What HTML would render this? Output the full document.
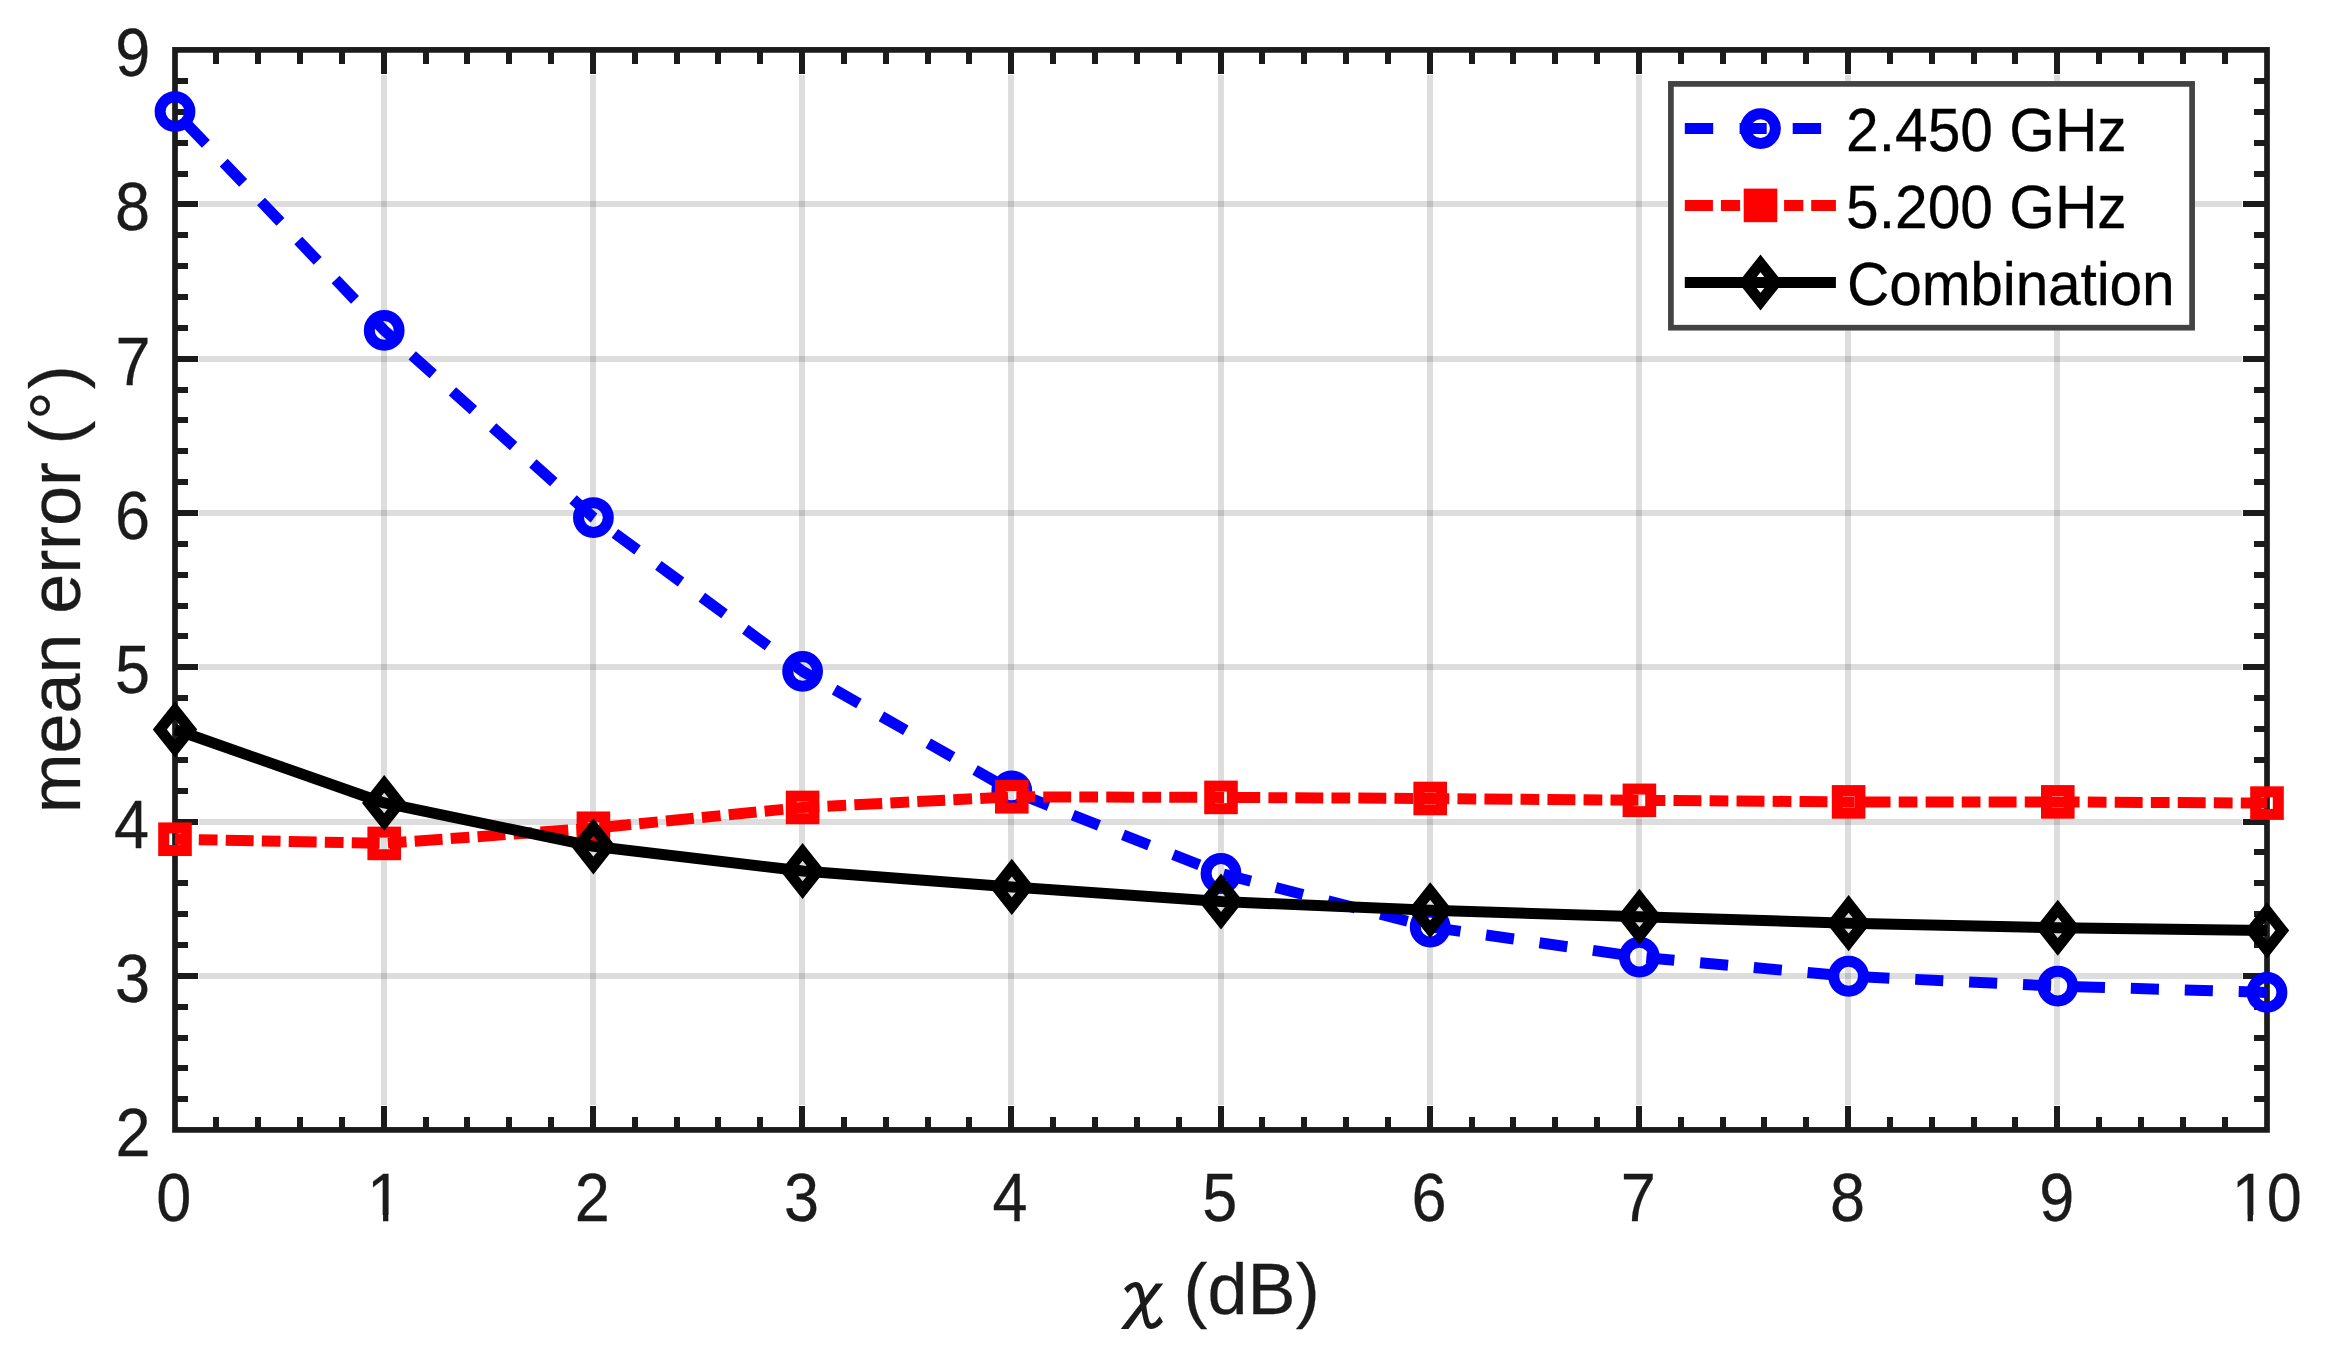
<!DOCTYPE html>
<html lang="en"><head><meta charset="utf-8"><title>mean error vs chi</title>
<style>html,body{margin:0;padding:0;background:#fff;overflow:hidden}svg{display:block}text{font-family:"Liberation Sans",sans-serif}.tk{font-size:65px;fill:#1b1b1b;stroke:#1b1b1b;stroke-width:.25px}.lb{font-size:72px;fill:#1b1b1b;stroke:#1b1b1b;stroke-width:.25px}.lg{font-size:58.7px;fill:#000;stroke:#000;stroke-width:.25px}</style></head><body>
<svg width="2352" height="1353" viewBox="0 0 2352 1353">
<rect x="0" y="0" width="2352" height="1353" fill="#fff"/>
<g fill="#1b1b1b" fill-opacity="0.15">
<rect x="381" y="75" width="6" height="1030"/>
<rect x="590" y="75" width="6" height="1030"/>
<rect x="799" y="75" width="6" height="1030"/>
<rect x="1008" y="75" width="6" height="1030"/>
<rect x="1218" y="75" width="6" height="1030"/>
<rect x="1427" y="75" width="6" height="1030"/>
<rect x="1636" y="75" width="6" height="1030"/>
<rect x="1845" y="75" width="6" height="1030"/>
<rect x="2054" y="75" width="6" height="1030"/>
<rect x="199" y="973" width="2043" height="6"/>
<rect x="199" y="819" width="2043" height="6"/>
<rect x="199" y="664" width="2043" height="6"/>
<rect x="199" y="510" width="2043" height="6"/>
<rect x="199" y="356" width="2043" height="6"/>
<rect x="199" y="201" width="2043" height="6"/>
</g>
<rect x="175.00" y="49.90" width="2092.00" height="1080.00" stroke="#1b1b1b" stroke-width="5.7" fill="none"/>
<path fill="#1b1b1b" d="M213 49.9H219V64H213ZM213 1129.9H219V1117H213ZM255 49.9H261V64H255ZM255 1129.9H261V1117H255ZM297 49.9H303V64H297ZM297 1129.9H303V1117H297ZM339 49.9H345V64H339ZM339 1129.9H345V1117H339ZM381 49.9H387V74H381ZM381 1129.9H387V1106H381ZM423 49.9H429V64H423ZM423 1129.9H429V1117H423ZM464 49.9H470V64H464ZM464 1129.9H470V1117H464ZM506 49.9H512V64H506ZM506 1129.9H512V1117H506ZM548 49.9H554V64H548ZM548 1129.9H554V1117H548ZM590 49.9H596V74H590ZM590 1129.9H596V1106H590ZM632 49.9H638V64H632ZM632 1129.9H638V1117H632ZM674 49.9H680V64H674ZM674 1129.9H680V1117H674ZM715 49.9H721V64H715ZM715 1129.9H721V1117H715ZM757 49.9H763V64H757ZM757 1129.9H763V1117H757ZM799 49.9H805V74H799ZM799 1129.9H805V1106H799ZM841 49.9H847V64H841ZM841 1129.9H847V1117H841ZM883 49.9H889V64H883ZM883 1129.9H889V1117H883ZM925 49.9H931V64H925ZM925 1129.9H931V1117H925ZM966 49.9H972V64H966ZM966 1129.9H972V1117H966ZM1008 49.9H1014V74H1008ZM1008 1129.9H1014V1106H1008ZM1050 49.9H1056V64H1050ZM1050 1129.9H1056V1117H1050ZM1092 49.9H1098V64H1092ZM1092 1129.9H1098V1117H1092ZM1134 49.9H1140V64H1134ZM1134 1129.9H1140V1117H1134ZM1176 49.9H1182V64H1176ZM1176 1129.9H1182V1117H1176ZM1218 49.9H1224V74H1218ZM1218 1129.9H1224V1106H1218ZM1259 49.9H1265V64H1259ZM1259 1129.9H1265V1117H1259ZM1301 49.9H1307V64H1301ZM1301 1129.9H1307V1117H1301ZM1343 49.9H1349V64H1343ZM1343 1129.9H1349V1117H1343ZM1385 49.9H1391V64H1385ZM1385 1129.9H1391V1117H1385ZM1427 49.9H1433V74H1427ZM1427 1129.9H1433V1106H1427ZM1469 49.9H1475V64H1469ZM1469 1129.9H1475V1117H1469ZM1510 49.9H1516V64H1510ZM1510 1129.9H1516V1117H1510ZM1552 49.9H1558V64H1552ZM1552 1129.9H1558V1117H1552ZM1594 49.9H1600V64H1594ZM1594 1129.9H1600V1117H1594ZM1636 49.9H1642V74H1636ZM1636 1129.9H1642V1106H1636ZM1678 49.9H1684V64H1678ZM1678 1129.9H1684V1117H1678ZM1720 49.9H1726V64H1720ZM1720 1129.9H1726V1117H1720ZM1761 49.9H1767V64H1761ZM1761 1129.9H1767V1117H1761ZM1803 49.9H1809V64H1803ZM1803 1129.9H1809V1117H1803ZM1845 49.9H1851V74H1845ZM1845 1129.9H1851V1106H1845ZM1887 49.9H1893V64H1887ZM1887 1129.9H1893V1117H1887ZM1929 49.9H1935V64H1929ZM1929 1129.9H1935V1117H1929ZM1971 49.9H1977V64H1971ZM1971 1129.9H1977V1117H1971ZM2012 49.9H2018V64H2012ZM2012 1129.9H2018V1117H2012ZM2054 49.9H2060V74H2054ZM2054 1129.9H2060V1106H2054ZM2096 49.9H2102V64H2096ZM2096 1129.9H2102V1117H2096ZM2138 49.9H2144V64H2138ZM2138 1129.9H2144V1117H2138ZM2180 49.9H2186V64H2180ZM2180 1129.9H2186V1117H2180ZM2222 49.9H2228V64H2222ZM2222 1129.9H2228V1117H2222ZM175.0 1096V1102H188V1096ZM2267.0 1096V1102H2254V1096ZM175.0 1065V1071H188V1065ZM2267.0 1065V1071H2254V1065ZM175.0 1035V1041H188V1035ZM2267.0 1035V1041H2254V1035ZM175.0 1004V1010H188V1004ZM2267.0 1004V1010H2254V1004ZM175.0 973V979H198V973ZM2267.0 973V979H2243V973ZM175.0 942V948H188V942ZM2267.0 942V948H2254V942ZM175.0 911V917H188V911ZM2267.0 911V917H2254V911ZM175.0 880V886H188V880ZM2267.0 880V886H2254V880ZM175.0 849V855H188V849ZM2267.0 849V855H2254V849ZM175.0 819V825H198V819ZM2267.0 819V825H2243V819ZM175.0 788V794H188V788ZM2267.0 788V794H2254V788ZM175.0 757V763H188V757ZM2267.0 757V763H2254V757ZM175.0 726V732H188V726ZM2267.0 726V732H2254V726ZM175.0 695V701H188V695ZM2267.0 695V701H2254V695ZM175.0 664V670H198V664ZM2267.0 664V670H2243V664ZM175.0 633V639H188V633ZM2267.0 633V639H2254V633ZM175.0 603V609H188V603ZM2267.0 603V609H2254V603ZM175.0 572V578H188V572ZM2267.0 572V578H2254V572ZM175.0 541V547H188V541ZM2267.0 541V547H2254V541ZM175.0 510V516H198V510ZM2267.0 510V516H2243V510ZM175.0 479V485H188V479ZM2267.0 479V485H2254V479ZM175.0 448V454H188V448ZM2267.0 448V454H2254V448ZM175.0 417V423H188V417ZM2267.0 417V423H2254V417ZM175.0 387V393H188V387ZM2267.0 387V393H2254V387ZM175.0 356V362H198V356ZM2267.0 356V362H2243V356ZM175.0 325V331H188V325ZM2267.0 325V331H2254V325ZM175.0 294V300H188V294ZM2267.0 294V300H2254V294ZM175.0 263V269H188V263ZM2267.0 263V269H2254V263ZM175.0 232V238H188V232ZM2267.0 232V238H2254V232ZM175.0 201V207H198V201ZM2267.0 201V207H2243V201ZM175.0 171V177H188V171ZM2267.0 171V177H2254V171ZM175.0 140V146H188V140ZM2267.0 140V146H2254V140ZM175.0 109V115H188V109ZM2267.0 109V115H2254V109ZM175.0 78V84H188V78ZM2267.0 78V84H2254V78Z"/>
<g stroke="#0000ff" stroke-width="11.00" fill="none" stroke-linejoin="miter">
<polyline points="175.00,111.61 384.20,330.39 593.40,517.54 802.60,671.36 1011.80,790.93 1221.00,873.48 1430.20,927.01 1639.40,957.10 1848.60,976.23 2057.80,986.11 2267.00,992.43" stroke-dasharray="28.1 25.857" stroke-dashoffset="37.40" stroke-linejoin="round"/>
<circle cx="175.00" cy="111.61" r="14.90"/>
<circle cx="384.20" cy="330.39" r="14.90"/>
<circle cx="593.40" cy="517.54" r="14.90"/>
<circle cx="802.60" cy="671.36" r="14.90"/>
<circle cx="1011.80" cy="790.93" r="14.90"/>
<circle cx="1221.00" cy="873.48" r="14.90"/>
<circle cx="1430.20" cy="927.01" r="14.90"/>
<circle cx="1639.40" cy="957.10" r="14.90"/>
<circle cx="1848.60" cy="976.23" r="14.90"/>
<circle cx="2057.80" cy="986.11" r="14.90"/>
<circle cx="2267.00" cy="992.43" r="14.90"/>
</g>
<g stroke="#ff0000" stroke-width="11.00" fill="none" stroke-linejoin="miter">
<polyline points="175.00,839.23 384.20,843.39 593.40,828.27 802.60,807.44 1011.80,796.80 1221.00,797.41 1430.20,798.49 1639.40,800.35 1848.60,801.89 2057.80,801.89 2267.00,803.12" stroke-dasharray="27.9 8.2 18.73 8.2" stroke-dashoffset="12.30" stroke-linejoin="round"/>
<rect x="163.70" y="827.93" width="22.60" height="22.60"/>
<rect x="372.90" y="832.09" width="22.60" height="22.60"/>
<rect x="582.10" y="816.97" width="22.60" height="22.60"/>
<rect x="791.30" y="796.14" width="22.60" height="22.60"/>
<rect x="1000.50" y="785.50" width="22.60" height="22.60"/>
<rect x="1209.70" y="786.11" width="22.60" height="22.60"/>
<rect x="1418.90" y="787.19" width="22.60" height="22.60"/>
<rect x="1628.10" y="789.05" width="22.60" height="22.60"/>
<rect x="1837.30" y="790.59" width="22.60" height="22.60"/>
<rect x="2046.50" y="790.59" width="22.60" height="22.60"/>
<rect x="2255.70" y="791.82" width="22.60" height="22.60"/>
</g>
<g stroke="#000000" stroke-width="11.00" fill="none" stroke-linejoin="miter" stroke-miterlimit="10">
<polyline points="175.00,729.53 384.20,802.97 593.40,846.32 802.60,871.01 1011.80,886.90 1221.00,901.56 1430.20,910.20 1639.40,916.83 1848.60,923.16 2057.80,927.79 2267.00,930.41" stroke-linejoin="round"/>
<path d="M175.00 710.33L190.20 729.53L175.00 748.73L159.80 729.53Z"/>
<path d="M384.20 783.77L399.40 802.97L384.20 822.17L369.00 802.97Z"/>
<path d="M593.40 827.12L608.60 846.32L593.40 865.52L578.20 846.32Z"/>
<path d="M802.60 851.81L817.80 871.01L802.60 890.21L787.40 871.01Z"/>
<path d="M1011.80 867.70L1027.00 886.90L1011.80 906.10L996.60 886.90Z"/>
<path d="M1221.00 882.36L1236.20 901.56L1221.00 920.76L1205.80 901.56Z"/>
<path d="M1430.20 891.00L1445.40 910.20L1430.20 929.40L1415.00 910.20Z"/>
<path d="M1639.40 897.63L1654.60 916.83L1639.40 936.03L1624.20 916.83Z"/>
<path d="M1848.60 903.96L1863.80 923.16L1848.60 942.36L1833.40 923.16Z"/>
<path d="M2057.80 908.59L2073.00 927.79L2057.80 946.99L2042.60 927.79Z"/>
<path d="M2267.00 911.21L2282.20 930.41L2267.00 949.61L2251.80 930.41Z"/>
</g>
<rect x="1670.90" y="83.90" width="521.20" height="243.80" fill="#fff" stroke="#434343" stroke-width="5.7"/>
<g stroke="#0000ff" stroke-width="11.00" fill="none">
<path d="M1684.8 128.60H1713.2M1739.6 128.60H1766.7M1792.7 128.60H1821.1"/>
<circle cx="1760.50" cy="128.60" r="14.90"/>
</g>
<g stroke="#ff0000" stroke-width="11.00" fill="none">
<line x1="1684.80" y1="205.40" x2="1835.90" y2="205.40" stroke-dasharray="28.1 8 19.2 7.9"/>
<rect x="1749.20" y="194.10" width="22.60" height="22.60" fill="#ff0000"/>
</g>
<g stroke="#000" stroke-width="11.00" fill="none" stroke-miterlimit="10">
<line x1="1684.80" y1="282.50" x2="1835.90" y2="282.50"/>
<path d="M1760.50 263.30L1775.70 282.50L1760.50 301.70L1745.30 282.50Z"/>
</g>
<text class="lg" transform="translate(1846.10 150.80) scale(1.0000 1.0400)">2.450 GHz</text>
<text class="lg" transform="translate(1846.10 228.00) scale(1.0000 1.0400)">5.200 GHz</text>
<text class="lg" transform="translate(1847.00 304.60) scale(1.0000 1.0400)" textLength="327.6" lengthAdjust="spacing">Combination</text>
<defs><clipPath id="c1"><rect x="-20.07" y="-70" width="76.30" height="63.97"/><rect x="-1.58" y="-70" width="5.44" height="75"/></clipPath><clipPath id="c10"><rect x="-38.15" y="-70" width="76.30" height="63.97"/><rect x="-19.65" y="-70" width="5.44" height="75"/><rect x="0.00" y="-70" width="38.15" height="75"/></clipPath></defs>
<text class="tk" text-anchor="middle" transform="translate(173.90 1221.20) scale(0.9700 1.0400)">0</text>
<text class="tk" text-anchor="middle" transform="translate(384.60 1221.20) scale(0.9700 1.0400)" clip-path="url(#c1)">1</text>
<text class="tk" text-anchor="middle" transform="translate(592.30 1221.20) scale(0.9700 1.0400)">2</text>
<text class="tk" text-anchor="middle" transform="translate(801.50 1221.20) scale(0.9700 1.0400)">3</text>
<text class="tk" text-anchor="middle" transform="translate(1010.10 1221.20) scale(0.9700 1.0400)">4</text>
<text class="tk" text-anchor="middle" transform="translate(1219.90 1221.20) scale(0.9700 1.0400)">5</text>
<text class="tk" text-anchor="middle" transform="translate(1429.10 1221.20) scale(0.9700 1.0400)">6</text>
<text class="tk" text-anchor="middle" transform="translate(1638.30 1221.20) scale(0.9700 1.0400)">7</text>
<text class="tk" text-anchor="middle" transform="translate(1847.50 1221.20) scale(0.9700 1.0400)">8</text>
<text class="tk" text-anchor="middle" transform="translate(2056.70 1221.20) scale(0.9700 1.0400)">9</text>
<text class="tk" text-anchor="middle" transform="translate(2266.70 1221.20) scale(0.9700 1.0400)" clip-path="url(#c10)">10</text>
<text class="tk" text-anchor="end" transform="translate(150.47 1156.10) scale(0.9700 1.0400)">2</text>
<text class="tk" text-anchor="end" transform="translate(150.07 1001.81) scale(0.9700 1.0400)">3</text>
<text class="tk" text-anchor="end" transform="translate(149.15 847.53) scale(0.9700 1.0400)">4</text>
<text class="tk" text-anchor="end" transform="translate(149.95 693.24) scale(0.9700 1.0400)">5</text>
<text class="tk" text-anchor="end" transform="translate(150.07 538.96) scale(0.9700 1.0400)">6</text>
<text class="tk" text-anchor="end" transform="translate(150.47 384.67) scale(0.9700 1.0400)">7</text>
<text class="tk" text-anchor="end" transform="translate(150.04 230.39) scale(0.9700 1.0400)">8</text>
<text class="tk" text-anchor="end" transform="translate(150.29 76.10) scale(0.9700 1.0400)">9</text>
<text class="lb" text-anchor="middle" transform="translate(80.0 589.3) rotate(-90) scale(1 1.0120)" dx="0 -0.1 -0.1 -0.1 -0.1 -0.1 -0.1 -0.1 -0.1 -0.1 -0.1 -2.4 0.6 1.9">mean error (°)</text>
<text transform="translate(1104.81 1321.82) scale(0.7759 0.7344)" font-size="100" fill="#1b1b1b" style="font-family:IPAGothic,'DejaVu Sans',sans-serif">χ</text>
<text class="lb" transform="translate(1183.60 1313.90) scale(1.0000 1.0120)">(dB)</text>
</svg></body></html>
